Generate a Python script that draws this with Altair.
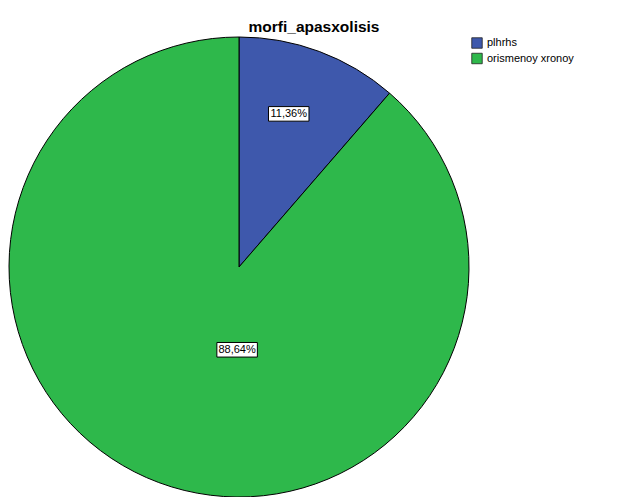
import altair as alt
import pandas as pd

categories = ["plhrhs", "orismenoy xronoy"]
values = [11.36, 88.64]
labels = ["11,36%", "88,64%"]
order = [1, 2]
colors = ["#3e58ac", "#2eb84b"]

df = pd.DataFrame({"category": categories, "value": values, "label": labels, "order": order})

color = alt.Color(
    "category:N",
    scale=alt.Scale(domain=categories, range=colors),
    legend=alt.Legend(
        title=None, orient="none", legendX=462, legendY=0,
        symbolType="square", symbolSize=110, symbolStrokeColor="#222222", symbolStrokeWidth=0.8,
        labelFont="Liberation Sans", labelFontSize=11, labelColor="black", rowPadding=1.5,
        symbolOpacity=1,
    ),
)

arc = alt.Chart(df).mark_arc(stroke="black", strokeWidth=1).encode(
    theta=alt.Theta("value:Q", stack=True),
    color=color,
    order=alt.Order("order:Q"),
)

lab_base = alt.Chart(df).transform_window(
    cum="sum(value)", sort=[alt.SortField("order")], frame=[None, 0]
).transform_calculate(
    mid="(datum.cum - datum.value * 0.56) / 100 * 2 * PI",
    r="datum.value > 50 ? 0.36 : 0.70",
).transform_calculate(
    lx="datum.r * sin(datum.mid)",
    ly="datum.r * cos(datum.mid)",
)

xs = alt.X("lx:Q", scale=alt.Scale(domain=[-1, 1]), axis=None)
ys = alt.Y("ly:Q", scale=alt.Scale(domain=[-1, 1]), axis=None)

box = lab_base.mark_point(
    shape="M-1,-0.36H1V0.36H-1Z", filled=True, fill="white", stroke="black",
    strokeWidth=1, opacity=1, size=1640,
).encode(x=xs, y=ys)

txt = lab_base.mark_text(font="Liberation Sans", fontSize=11, color="black", baseline="middle").encode(
    x=xs, y=ys, text="label:N"
)

chart = alt.layer(arc, box, txt).properties(
    width=460, height=460,
    background="white",
    title=alt.TitleParams(
        "morfi_apasxolisis", font="Liberation Sans", fontSize=15.5, fontWeight="bold",
        color="black", anchor="middle", dx=75, dy=18, offset=6, baseline="alphabetic",
    ),
    autosize=alt.AutoSizeParams(type="none"),
    padding={"left": 1, "top": 29, "right": 152, "bottom": 0},
).configure_view(strokeWidth=0, stroke="transparent")

chart.save("out.html", embed_options={"renderer": "svg", "actions": False})
